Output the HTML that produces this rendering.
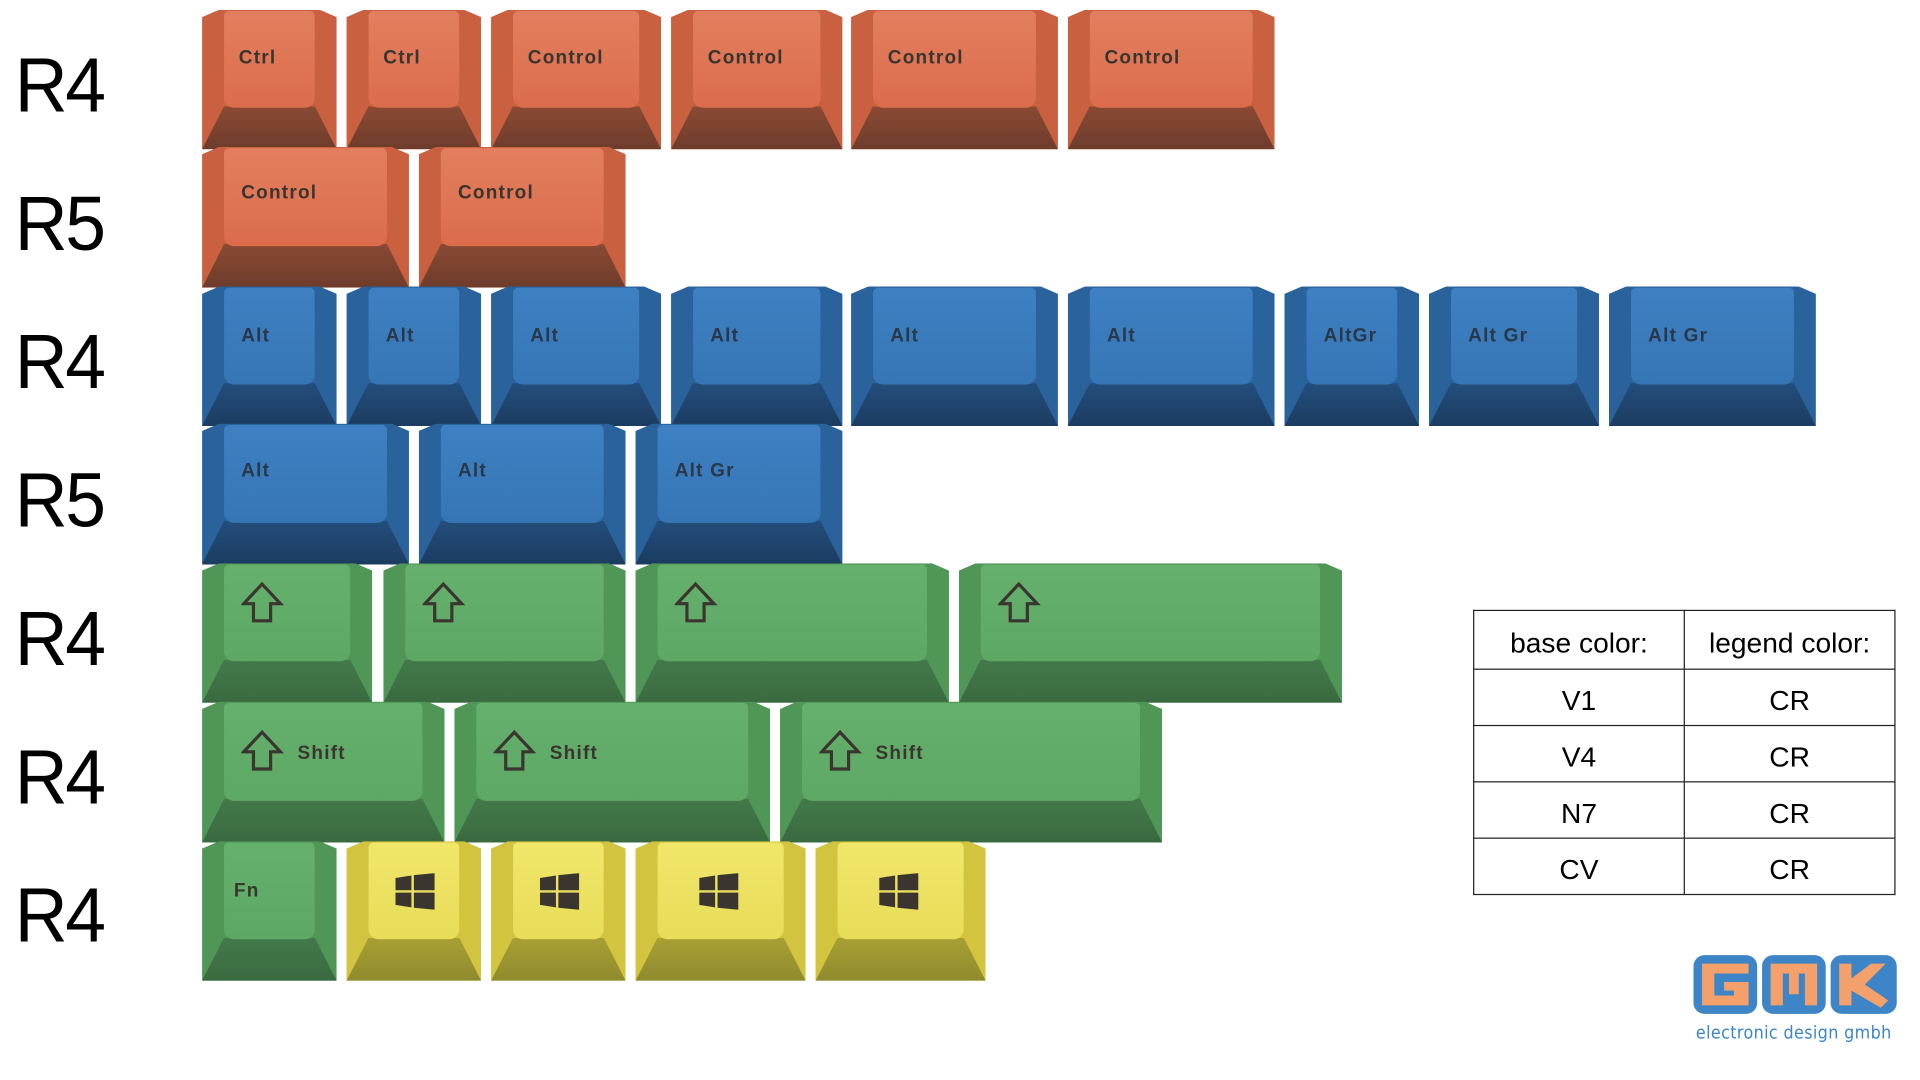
<!DOCTYPE html>
<html><head><meta charset="utf-8"><style>
html,body{margin:0;padding:0;background:#fff;}
body{width:1920px;height:1080px;overflow:hidden;position:relative;}
#w{position:absolute;left:0;top:0;width:1568px;height:882px;transform:scale(1.2245);transform-origin:0 0;font-family:"Liberation Sans",sans-serif;}
.lab{position:absolute;left:12px;font-size:63px;color:#000;line-height:1;font-weight:300;letter-spacing:-2px;transform:scaleX(0.95);transform-origin:0 0;}
.k{position:absolute;clip-path:polygon(0 6px,14px 0,calc(100% - 14px) 0,100% 6px,100% 100%,0 100%);}
.f{position:absolute;left:0;right:0;bottom:0;height:31%;clip-path:polygon(0 100%,100% 100%,calc(100% - 18px) 0,18px 0);}
.t{position:absolute;left:18px;right:18px;top:1px;bottom:30%;border-radius:4px 4px 8px 8px;}
.L{position:absolute;left:14px;top:30px;font-weight:bold;font-size:15.5px;letter-spacing:1px;color:#3b3530;}
.o{background:#c9603f}.o .f{background:linear-gradient(#8a4a34,#6e3c2c)}.o .t{background:linear-gradient(#e27f5e,#dc6c4c)}
.b{background:#2a629c}.b .f{background:linear-gradient(#234e7c,#1c3c60)}.b .t{background:linear-gradient(#3e80c2,#3676b6)}
.b .L{color:#29384a}
.g{background:#4f9657}.g .f{background:linear-gradient(#437a4a,#3a6a40)}.g .t{background:linear-gradient(#66b06e,#5ea866)}
.y{background:#d2c43e}.y .f{background:linear-gradient(#a8a034,#8f8a2e)}.y .t{background:linear-gradient(#f0e66a,#e8dc58)}
table{position:absolute;left:1203px;top:498px;border-collapse:collapse;font-size:23px;color:#000;}
td{border:1.6px solid #222;text-align:center;height:46px;padding:6px 0 0 0;box-sizing:border-box;}
</style></head><body><div id="w">
<div class="lab" style="top:39px">R4</div>
<div class="lab" style="top:152px">R5</div>
<div class="lab" style="top:265px">R4</div>
<div class="lab" style="top:378px">R5</div>
<div class="lab" style="top:491px">R4</div>
<div class="lab" style="top:604px">R4</div>
<div class="lab" style="top:717px">R4</div>

<!-- row1 -->
<div class="k o" style="left:165px;top:8px;width:110px;height:114px"><div class="f"></div><div class="t"><span class="L" style="left:12px;top:30px">Ctrl</span></div></div>
<div class="k o" style="left:283px;top:8px;width:110px;height:114px"><div class="f"></div><div class="t"><span class="L" style="left:12px;top:30px">Ctrl</span></div></div>
<div class="k o" style="left:401px;top:8px;width:139px;height:114px"><div class="f"></div><div class="t"><span class="L" style="left:12px;top:30px">Control</span></div></div>
<div class="k o" style="left:548px;top:8px;width:140px;height:114px"><div class="f"></div><div class="t"><span class="L" style="left:12px;top:30px">Control</span></div></div>
<div class="k o" style="left:695px;top:8px;width:169px;height:114px"><div class="f"></div><div class="t"><span class="L" style="left:12px;top:30px">Control</span></div></div>
<div class="k o" style="left:872px;top:8px;width:169px;height:114px"><div class="f"></div><div class="t"><span class="L" style="left:12px;top:30px">Control</span></div></div>
<!-- row2 -->
<div class="k o" style="left:165px;top:120px;width:169px;height:115px"><div class="f"></div><div class="t"><span class="L" style="left:14px;top:28px">Control</span></div></div>
<div class="k o" style="left:342px;top:120px;width:169px;height:115px"><div class="f"></div><div class="t"><span class="L" style="left:14px;top:28px">Control</span></div></div>
<!-- row3 -->
<div class="k b" style="left:165px;top:234px;width:110px;height:114px"><div class="f"></div><div class="t"><span class="L" style="left:14px;top:31px">Alt</span></div></div>
<div class="k b" style="left:283px;top:234px;width:110px;height:114px"><div class="f"></div><div class="t"><span class="L" style="left:14px;top:31px">Alt</span></div></div>
<div class="k b" style="left:401px;top:234px;width:139px;height:114px"><div class="f"></div><div class="t"><span class="L" style="left:14px;top:31px">Alt</span></div></div>
<div class="k b" style="left:548px;top:234px;width:140px;height:114px"><div class="f"></div><div class="t"><span class="L" style="left:14px;top:31px">Alt</span></div></div>
<div class="k b" style="left:695px;top:234px;width:169px;height:114px"><div class="f"></div><div class="t"><span class="L" style="left:14px;top:31px">Alt</span></div></div>
<div class="k b" style="left:872px;top:234px;width:169px;height:114px"><div class="f"></div><div class="t"><span class="L" style="left:14px;top:31px">Alt</span></div></div>
<div class="k b" style="left:1049px;top:234px;width:110px;height:114px"><div class="f"></div><div class="t"><span class="L" style="left:14px;top:31px">AltGr</span></div></div>
<div class="k b" style="left:1167px;top:234px;width:139px;height:114px"><div class="f"></div><div class="t"><span class="L" style="left:14px;top:31px">Alt Gr</span></div></div>
<div class="k b" style="left:1314px;top:234px;width:169px;height:114px"><div class="f"></div><div class="t"><span class="L" style="left:14px;top:31px">Alt Gr</span></div></div>
<!-- row4 -->
<div class="k b" style="left:165px;top:346px;width:169px;height:115px"><div class="f"></div><div class="t"><span class="L" style="left:14px;top:29px">Alt</span></div></div>
<div class="k b" style="left:342px;top:346px;width:169px;height:115px"><div class="f"></div><div class="t"><span class="L" style="left:14px;top:29px">Alt</span></div></div>
<div class="k b" style="left:519px;top:346px;width:169px;height:115px"><div class="f"></div><div class="t"><span class="L" style="left:14px;top:29px">Alt Gr</span></div></div>
<!-- row5 -->
<svg width="0" height="0" style="position:absolute"><defs><path id="ar" d="M17 2 L32 18 L24 18 L24 32 L10 32 L10 18 L2 18 Z" fill="none" stroke="#3b3530" stroke-width="2.6" stroke-linejoin="miter"/></defs></svg>
<div class="k g" style="left:165px;top:460px;width:139px;height:114px"><div class="f"></div><div class="t"><svg style="position:absolute;left:14px;top:14px" width="36" height="36"><use href="#ar"/></svg></div></div>
<div class="k g" style="left:313px;top:460px;width:198px;height:114px"><div class="f"></div><div class="t"><svg style="position:absolute;left:14px;top:14px" width="36" height="36"><use href="#ar"/></svg></div></div>
<div class="k g" style="left:519px;top:460px;width:256px;height:114px"><div class="f"></div><div class="t"><svg style="position:absolute;left:14px;top:14px" width="36" height="36"><use href="#ar"/></svg></div></div>
<div class="k g" style="left:783px;top:460px;width:313px;height:114px"><div class="f"></div><div class="t"><svg style="position:absolute;left:14px;top:14px" width="36" height="36"><use href="#ar"/></svg></div></div>
<!-- row6 -->
<div class="k g" style="left:165px;top:573px;width:198px;height:115px"><div class="f"></div><div class="t"><svg style="position:absolute;left:14px;top:22px" width="36" height="36"><use href="#ar"/></svg><span class="L" style="left:60px;top:33px">Shift</span></div></div>
<div class="k g" style="left:371px;top:573px;width:258px;height:115px"><div class="f"></div><div class="t"><svg style="position:absolute;left:14px;top:22px" width="36" height="36"><use href="#ar"/></svg><span class="L" style="left:60px;top:33px">Shift</span></div></div>
<div class="k g" style="left:637px;top:573px;width:312px;height:115px"><div class="f"></div><div class="t"><svg style="position:absolute;left:14px;top:22px" width="36" height="36"><use href="#ar"/></svg><span class="L" style="left:60px;top:33px">Shift</span></div></div>
<!-- row7 -->
<svg width="0" height="0" style="position:absolute"><defs><g id="win" fill="#3b3530"><path d="M0 4 L13 2 L13 14 L0 14Z"/><path d="M15 1.7 L32 0 L32 14 L15 14Z"/><path d="M0 16 L13 16 L13 28 L0 26Z"/><path d="M15 16 L32 16 L32 30 L15 28.3Z"/></g></defs></svg>
<div class="k g" style="left:165px;top:687px;width:110px;height:114px"><div class="f"></div><div class="t"><span class="L" style="left:8px;top:31px">Fn</span></div></div>
<div class="k y" style="left:283px;top:687px;width:110px;height:114px"><div class="f"></div><div class="t"><svg style="position:absolute;left:22px;top:25px" width="32" height="30"><use href="#win"/></svg></div></div>
<div class="k y" style="left:401px;top:687px;width:110px;height:114px"><div class="f"></div><div class="t"><svg style="position:absolute;left:22px;top:25px" width="32" height="30"><use href="#win"/></svg></div></div>
<div class="k y" style="left:519px;top:687px;width:139px;height:114px"><div class="f"></div><div class="t"><svg style="position:absolute;left:34px;top:25px" width="32" height="30"><use href="#win"/></svg></div></div>
<div class="k y" style="left:666px;top:687px;width:139px;height:114px"><div class="f"></div><div class="t"><svg style="position:absolute;left:34px;top:25px" width="32" height="30"><use href="#win"/></svg></div></div>

<table>
<tr><td style="width:172px;height:48px">base color:</td><td style="width:172px">legend color:</td></tr>
<tr><td>V1</td><td>CR</td></tr>
<tr><td>V4</td><td>CR</td></tr>
<tr><td>N7</td><td>CR</td></tr>
<tr><td>CV</td><td>CR</td></tr>
</table>

<svg style="position:absolute;left:1382px;top:779px" width="168" height="50" viewBox="0 0 168 50">
<rect x="1" y="1" width="52" height="48" rx="9" fill="#3d85c6"/>
<rect x="57" y="1" width="52" height="48" rx="9" fill="#3d85c6"/>
<rect x="113" y="1" width="54" height="48" rx="9" fill="#3d85c6"/>
<path d="M8 8 H46 V16 H18 V34 H34 V30 H26 V23 H46 V42 H8 Z" fill="#f4a06a"/>
<path d="M64 8 H102 V42 H92 V16 H87 V33 H79 V16 H74 V42 H64 Z" fill="#f4a06a"/>
<path d="M120 8 H130 V20 L146 8 L158 8 L141 25 L160 38 L154 44 L130 30 V42 H120 Z" fill="#f4a06a"/>
</svg>
<div style="position:absolute;left:1385px;top:836px;font-size:14.5px;color:#3d85c6;letter-spacing:0.3px;font-family:'DejaVu Sans Condensed','Liberation Sans',sans-serif">electronic design gmbh</div>
</div></body></html>
